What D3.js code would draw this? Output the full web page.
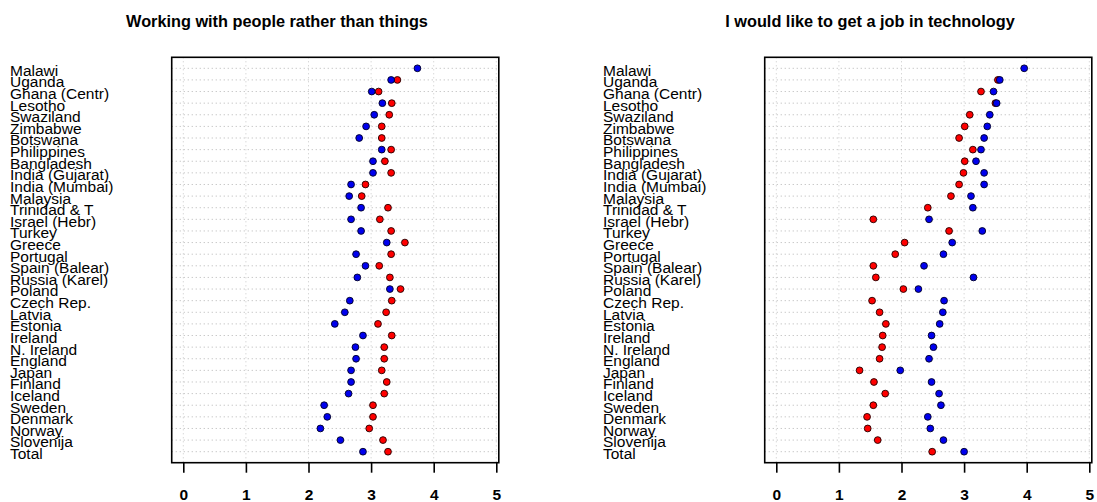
<!DOCTYPE html>
<html>
<head>
<meta charset="utf-8">
<script src="https://cdn.jsdelivr.net/npm/d3@7"></script>
<style>
  html, body { margin: 0; padding: 0; background: #fff; }
  svg { display: block; }
  text { font-family: "Liberation Sans", Arial, sans-serif; fill: #000; }
</style>
</head>
<body>
<svg id="chart" width="1097" height="502"></svg>
<script>
// Countries, top to bottom
const countries = [
  "Malawi", "Uganda", "Ghana (Centr)", "Lesotho", "Swaziland", "Zimbabwe",
  "Botswana", "Philippines", "Bangladesh", "India (Gujarat)", "India (Mumbai)",
  "Malaysia", "Trinidad & T", "Israel (Hebr)", "Turkey", "Greece", "Portugal",
  "Spain (Balear)", "Russia (Karel)", "Poland", "Czech Rep.", "Latvia",
  "Estonia", "Ireland", "N. Ireland", "England", "Japan", "Finland",
  "Iceland", "Sweden", "Denmark", "Norway", "Slovenija", "Total"
];

// "Working with people rather than things" — mean score per group
const peopleRed = [
  null, 3.42, 3.12, 3.33, 3.29, 3.17, 3.17, 3.32, 3.22, 3.32, 2.91,
  2.85, 3.27, 3.14, 3.32, 3.54, 3.32, 3.13, 3.30, 3.47, 3.33, 3.24,
  3.11, 3.33, 3.21, 3.21, 3.17, 3.25, 3.21, 3.03, 3.03, 2.97, 3.19, 3.27
];
const peopleBlue = [
  3.74, 3.32, 3.01, 3.18, 3.05, 2.92, 2.81, 3.17, 3.03, 3.03, 2.68,
  2.65, 2.84, 2.68, 2.84, 3.25, 2.76, 2.91, 2.78, 3.30, 2.66, 2.58,
  2.42, 2.87, 2.75, 2.76, 2.68, 2.68, 2.64, 2.25, 2.30, 2.19, 2.51, 2.87
];

// "I would like to get a job in technology" — mean score per group
const techRed = [
  null, 3.54, 3.27, 3.50, 3.09, 3.01, 2.92, 3.14, 3.01, 2.99, 2.92,
  2.79, 2.42, 1.55, 2.76, 2.05, 1.90, 1.55, 1.59, 2.03, 1.53, 1.65,
  1.75, 1.70, 1.69, 1.65, 1.33, 1.56, 1.74, 1.55, 1.45, 1.46, 1.62, 2.49
];
const techBlue = [
  3.96, 3.57, 3.47, 3.52, 3.41, 3.37, 3.32, 3.27, 3.19, 3.32, 3.32,
  3.11, 3.14, 2.44, 3.29, 2.81, 2.67, 2.36, 3.15, 2.27, 2.68, 2.66,
  2.61, 2.48, 2.51, 2.44, 1.98, 2.48, 2.60, 2.63, 2.42, 2.46, 2.67, 3.00
];

const xTicks = [0, 1, 2, 3, 4, 5];
const titles = ["Working with people rather than things", "I would like to get a job in technology"];

const svg = d3.select("#chart");

const y = d3.scalePoint().domain(countries).range([68.3, 451.7]);
const boxTop = 57.3, boxBottom = 462.7;

const panels = [
  { title: titles[0], red: peopleRed, blue: peopleBlue, x0: 183.3, labelX: 10, titleX: 277 },
  { title: titles[1], red: techRed,   blue: techBlue,   x0: 776.3, labelX: 603, titleX: 870 }
];

panels.forEach(p => {
  const x = d3.scaleLinear().domain([0, 5]).range([p.x0, p.x0 + 313]);
  const g = svg.append("g");
  const boxL = x(-0.185), boxR = x(5.04);

  // title
  g.append("text")
    .attr("x", p.titleX).attr("y", 26.5)
    .attr("text-anchor", "middle")
    .style("font-weight", "bold").style("font-size", "16.3px")
    .text(p.title);

  // vertical grid
  g.selectAll(".vgrid").data(xTicks).join("line")
    .attr("x1", d => x(d)).attr("x2", d => x(d))
    .attr("y1", boxTop).attr("y2", boxBottom)
    .attr("stroke", "#c8c8c8").attr("stroke-width", 1)
    .attr("stroke-dasharray", "1,3");

  // horizontal row guides
  g.selectAll(".hgrid").data(countries).join("line")
    .attr("x1", boxL).attr("x2", boxR)
    .attr("y1", d => y(d)).attr("y2", d => y(d))
    .attr("stroke", "#b4b4b4").attr("stroke-width", 1)
    .attr("stroke-dasharray", "1,3");

  // row labels
  g.selectAll(".lab").data(countries).join("text")
    .attr("x", p.labelX).attr("y", d => y(d) + 7.4)
    .style("font-size", "15.5px")
    .text(d => d);

  // points: red series then blue series
  const redPts = countries.map((c, i) => ({ c, v: p.red[i] })).filter(d => d.v != null);
  const bluePts = countries.map((c, i) => ({ c, v: p.blue[i] })).filter(d => d.v != null);

  g.selectAll(".red").data(redPts).join("circle")
    .attr("cx", d => x(d.v)).attr("cy", d => y(d.c)).attr("r", 3.4)
    .attr("fill", "#ff0000").attr("stroke", "#200000").attr("stroke-width", 0.9);

  g.selectAll(".blue").data(bluePts).join("circle")
    .attr("cx", d => x(d.v)).attr("cy", d => y(d.c)).attr("r", 3.4)
    .attr("fill", "#0000ee").attr("stroke", "#000022").attr("stroke-width", 0.9);

  // frame
  g.append("rect")
    .attr("x", boxL).attr("y", boxTop)
    .attr("width", boxR - boxL).attr("height", boxBottom - boxTop)
    .attr("fill", "none").attr("stroke", "#000").attr("stroke-width", 1.6);

  // x axis
  const axis = d3.axisBottom(x).tickValues(xTicks).tickSize(10).tickPadding(16).tickFormat(d3.format("d"));
  const ax = g.append("g").attr("transform", `translate(0,${boxBottom})`).call(axis);
  ax.select(".domain").remove();
  ax.selectAll(".tick line").attr("stroke", "#000").attr("stroke-width", 1.6);
  ax.selectAll(".tick text")
    .style("font-family", "'Liberation Sans', Arial, sans-serif")
    .style("font-size", "15.5px").style("font-weight", "bold").attr("fill", "#000");
});
</script>
</body>
</html>
